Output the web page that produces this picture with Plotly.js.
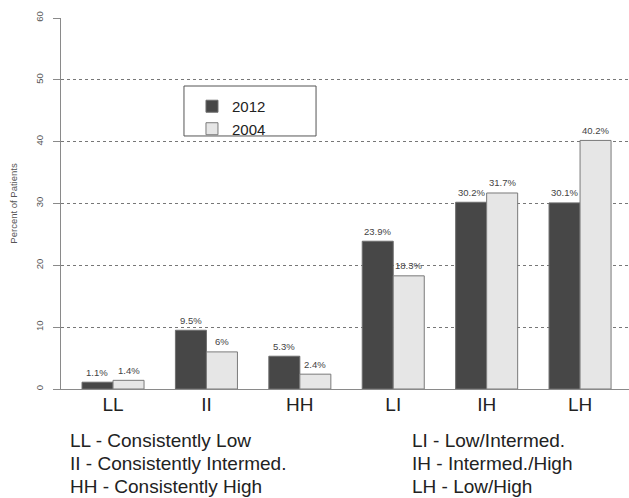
<!DOCTYPE html>
<html>
<head>
<meta charset="utf-8">
<script src="https://cdn.plot.ly/plotly-3.0.1.min.js"></script>
<style>html,body{margin:0;padding:0;background:#fff;}#chart{width:629px;height:498px;}</style>
</head>
<body>
<div id="chart"></div>
<script>
const categories = ["LL", "II", "HH", "LI", "IH", "LH"];
const values2012 = [1.1, 9.5, 5.3, 23.9, 30.2, 30.1];
const values2004 = [1.4, 6, 2.4, 18.3, 31.7, 40.2];
const labels2012 = ["1.1%", "9.5%", "5.3%", "23.9%", "30.2%", "30.1%"];
const labels2004 = ["1.4%", "6%", "2.4%", "18.3%", "31.7%", "40.2%"];
const yTicks = [0, 10, 20, 30, 40, 50, 60];
const keyLeft = ["LL - Consistently Low", "II - Consistently Intermed.", "HH - Consistently High"];
const keyRight = ["LI - Low/Intermed.", "IH - Intermed./High", "LH - Low/High"];

const font = "Liberation Sans, Arial, sans-serif";
const traces = [
  {type: "bar", name: "2012", x: categories, y: values2012,
   marker: {color: "#474747", line: {color: "#6e6e6e", width: 1}}, hoverinfo: "none"},
  {type: "bar", name: "2004", x: categories, y: values2004,
   marker: {color: "#e6e6e6", line: {color: "#7a7a7a", width: 1}}, hoverinfo: "none"}
];

const annotations = [];
categories.forEach((c, i) => {
  annotations.push({x: c, y: values2012[i], xref: "x", yref: "y", text: labels2012[i], showarrow: false,
    xshift: -15.6, yshift: 10, yanchor: "middle", font: {family: font, size: 9.5, color: "#444"}});
  annotations.push({x: c, y: values2004[i], xref: "x", yref: "y", text: labels2004[i], showarrow: false,
    xshift: 15.6, yshift: 10, yanchor: "middle", font: {family: font, size: 9.5, color: "#444"}});
});
// key text below the chart, one line per annotation (23 px line spacing)
const plotH = 371;
const keyTop = [440.5, 463.5, 486.5];
keyLeft.forEach((t, i) => annotations.push({xref: "paper", yref: "paper", x: 0.0123, y: (389 - keyTop[i]) / plotH,
  xanchor: "left", yanchor: "middle", showarrow: false, text: t, font: {family: font, size: 19, color: "#222"}}));
keyRight.forEach((t, i) => annotations.push({xref: "paper", yref: "paper", x: 0.614, y: (389 - keyTop[i]) / plotH,
  xanchor: "left", yanchor: "middle", showarrow: false, text: t, font: {family: font, size: 19, color: "#222"}}));

const layout = {
  width: 629, height: 498,
  margin: {l: 61, r: 0, t: 18, b: 109, pad: 0},
  paper_bgcolor: "#fff", plot_bgcolor: "#fff",
  barmode: "group", bargap: 0.336, bargroupgap: 0,
  font: {family: font, color: "#333"},
  showlegend: true,
  legend: {x: 0.2306, y: 0.806, xanchor: "left", yanchor: "top", bgcolor: "rgba(0,0,0,0)",
    borderwidth: 0, font: {family: font, size: 15, color: "#222"},
    traceorder: "normal"},
  shapes: [{type: "rect", xref: "paper", yref: "paper", x0: 0.2165, x1: 0.449, y0: 0.682, y1: 0.8167,
    line: {color: "#555", width: 1}, fillcolor: "#fff", layer: "above"}],
  xaxis: {range: [-0.557, 5.524], showline: true, linecolor: "#8a8a8a", linewidth: 1,
    ticks: "", showgrid: false, zeroline: false, tickfont: {family: font, size: 19, color: "#222"},
    ticklabelstandoff: -2, fixedrange: true},
  yaxis: {range: [0, 60], tickvals: yTicks, ticktext: yTicks.map(String), tickangle: -90,
    showline: true, linecolor: "#8a8a8a", linewidth: 1, ticks: "outside", ticklen: 7, tickcolor: "#8a8a8a",
    ticklabelstandoff: 6,
    showgrid: true, gridcolor: "#777", griddash: "dot", gridwidth: 1, zeroline: false,
    tickfont: {family: font, size: 9.5, color: "#555"},
    title: {text: "Percent of Patients", font: {family: font, size: 9.5, color: "#555"}, standoff: 14},
    fixedrange: true},
  annotations: annotations
};

Plotly.newPlot("chart", traces, layout, {displayModeBar: false, staticPlot: true});
</script>
</body>
</html>
